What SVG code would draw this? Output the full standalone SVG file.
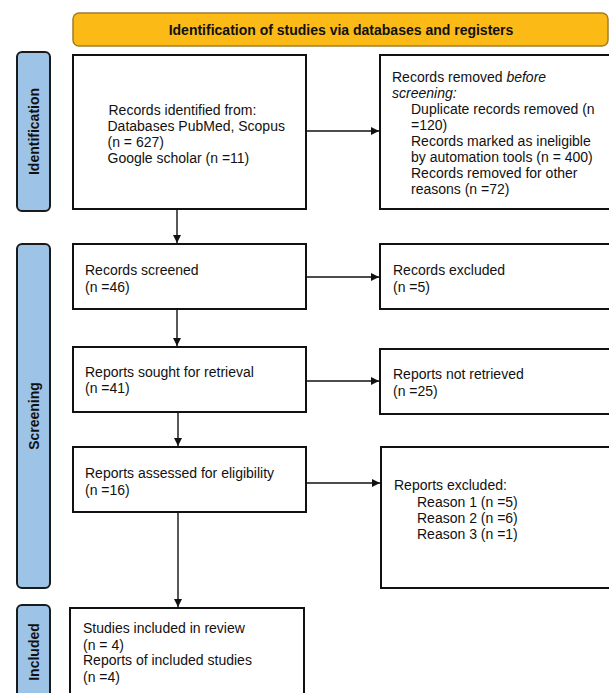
<svg xmlns="http://www.w3.org/2000/svg" width="609" height="693" viewBox="0 0 609 693">
<style>
.box{fill:#fff;stroke:#111;stroke-width:2}
.side{fill:#9DC3E6;stroke:#1a1a1a;stroke-width:2}
.hdr{fill:#FBBA16;stroke:#A07E2C;stroke-width:1.5}
text{font-family:"Liberation Sans",Arial,sans-serif;font-size:14px;fill:#111}
.b{font-weight:bold}
.lab{font-weight:bold;text-anchor:middle}
.con{stroke:#111;stroke-width:1.4;fill:none;marker-end:url(#ah)}
</style>
<defs>
<marker id="ah" viewBox="0 0 10 10" refX="10" refY="5" markerWidth="8" markerHeight="8" markerUnits="userSpaceOnUse" orient="auto">
<path d="M0,0 L10,5 L0,10 z" fill="#111"/>
</marker>
</defs>
<rect width="609" height="693" fill="#fff"/>
<g id="header">
<rect class="hdr" x="73" y="13" width="535" height="33" rx="6"/>
<text class="lab" x="341" y="34.5">Identification of studies via databases and registers</text>
</g>
<g id="side-identification">
<rect class="side" x="17" y="52" width="33" height="159" rx="5"/>
<text class="lab" transform="translate(38.5,131.5) rotate(-90)">Identification</text>
</g>
<g id="side-screening">
<rect class="side" x="17" y="244" width="33" height="344" rx="5"/>
<text class="lab" transform="translate(38.5,416) rotate(-90)">Screening</text>
</g>
<g id="side-included">
<rect class="side" x="17" y="605" width="33" height="110" rx="5"/>
<text class="lab" transform="translate(38.5,652) rotate(-90)">Included</text>
</g>
<g id="records-identified">
<rect class="box" x="73" y="55" width="233" height="154"/>
<text x="108.5" y="115">Records identified from:</text>
<text x="107.5" y="131">Databases PubMed, Scopus</text>
<text x="107.5" y="147">(n = 627)</text>
<text x="107.5" y="163">Google scholar (n =11)</text>
</g>
<g id="records-removed">
<rect class="box" x="380" y="55" width="240" height="154"/>
<text x="392" y="82">Records removed <tspan font-style="italic">before</tspan></text>
<text x="392" y="98" font-style="italic">screening:</text>
<text x="411" y="114">Duplicate records removed (n</text>
<text x="411" y="130">=120)</text>
<text x="411" y="146">Records marked as ineligible</text>
<text x="411" y="162">by automation tools (n = 400)</text>
<text x="411" y="178">Records removed for other</text>
<text x="411" y="194">reasons (n =72)</text>
</g>
<g id="records-screened">
<rect class="box" x="73" y="244" width="233" height="65"/>
<text x="85" y="275">Records screened</text>
<text x="85" y="292">(n =46)</text>
</g>
<g id="records-excluded">
<rect class="box" x="380" y="244" width="240" height="65"/>
<text x="393" y="275">Records excluded</text>
<text x="393" y="292">(n =5)</text>
</g>
<g id="reports-sought">
<rect class="box" x="73" y="347" width="233" height="65"/>
<text x="85" y="377">Reports sought for retrieval</text>
<text x="85" y="393">(n =41)</text>
</g>
<g id="reports-not-retrieved">
<rect class="box" x="380" y="349" width="240" height="65"/>
<text x="393" y="379">Reports not retrieved</text>
<text x="393" y="396">(n =25)</text>
</g>
<g id="reports-assessed">
<rect class="box" x="73" y="447" width="233" height="65"/>
<text x="85" y="478">Reports assessed for eligibility</text>
<text x="85" y="495">(n =16)</text>
</g>
<g id="reports-excluded">
<rect class="box" x="381" y="447" width="240" height="141"/>
<text x="394" y="490">Reports excluded:</text>
<text x="417" y="507">Reason 1 (n =5)</text>
<text x="417" y="523">Reason 2 (n =6)</text>
<text x="417" y="539">Reason 3 (n =1)</text>
</g>
<g id="studies-included">
<rect class="box" x="70" y="608" width="234" height="110"/>
<text x="83" y="633">Studies included in review</text>
<text x="83" y="650">(n = 4)</text>
<text x="83" y="665">Reports of included studies</text>
<text x="83" y="682">(n =4)</text>
</g>
<g id="connectors">
<line class="con" x1="306" y1="131" x2="379" y2="131"/>
<line class="con" x1="177" y1="209" x2="177" y2="243"/>
<line class="con" x1="306" y1="277" x2="379" y2="277"/>
<line class="con" x1="177" y1="309" x2="177" y2="346"/>
<line class="con" x1="306" y1="381" x2="379" y2="381"/>
<line class="con" x1="178" y1="412" x2="178" y2="446"/>
<line class="con" x1="306" y1="483" x2="380" y2="483"/>
<line class="con" x1="178" y1="512" x2="178" y2="607"/>
</g>
</svg>
